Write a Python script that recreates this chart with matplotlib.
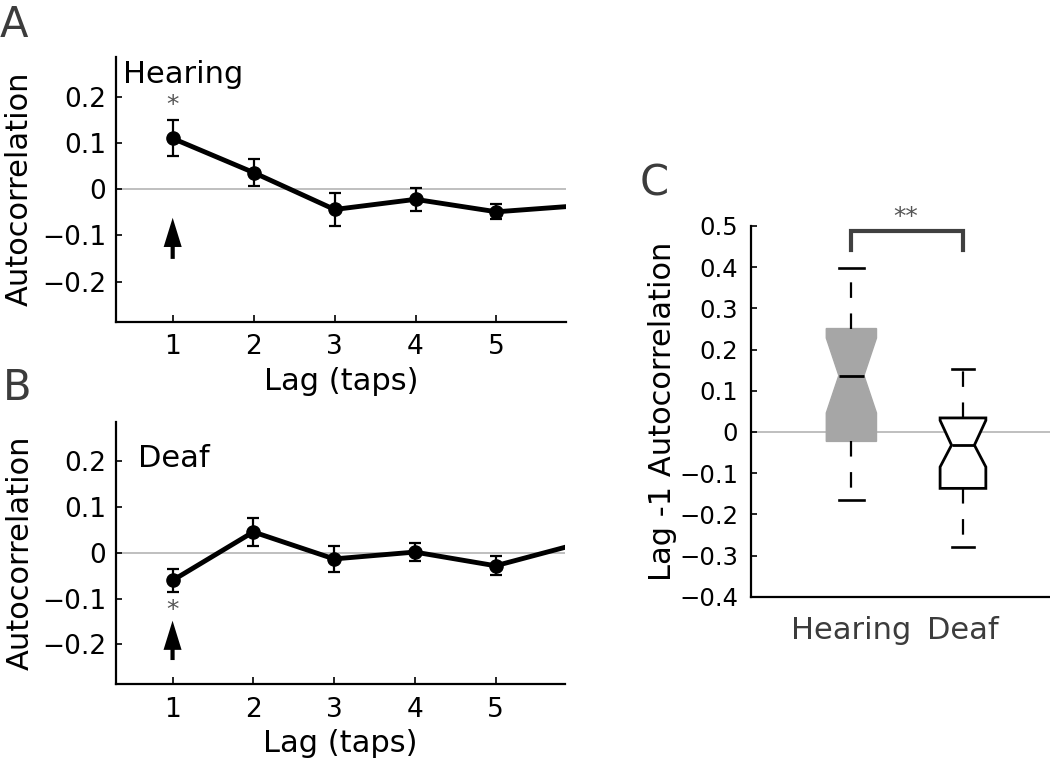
import matplotlib.pyplot as plt
import numpy as np

# ---- data ----
lags = [1, 2, 3, 4, 5, 6]
hearing_acf = [0.110, 0.036, -0.044, -0.022, -0.049, -0.036]
hearing_err = [0.039, 0.029, 0.035, 0.025, 0.016, 0.016]
deaf_acf = [-0.060, 0.046, -0.013, 0.002, -0.028, 0.019]
deaf_err = [0.025, 0.031, 0.028, 0.020, 0.021, 0.021]

groups = ['Hearing', 'Deaf']
q1 = [-0.023, -0.137]
med = [0.137, -0.032]
q3 = [0.251, 0.034]
whislo = [-0.166, -0.279]
whishi = [0.399, 0.152]
cilo = [0.046, -0.085]
cihi = [0.228, 0.028]

ab_yticks = [-0.2, -0.1, 0, 0.1, 0.2]
c_yticks = [-0.4, -0.3, -0.2, -0.1, 0, 0.1, 0.2, 0.3, 0.4, 0.5]
lag_xticks = [1, 2, 3, 4, 5]


def fmt(v):
    return '0' if v == 0 else f'{v:.1f}'.replace('-', '\u2212')


GRAY_TXT = '#3c3c3c'
ZERO = '#b4b4b4'

fig = plt.figure(figsize=(10.5, 7.65), dpi=100)
axA = fig.add_axes([0.1105, 0.5795, 0.4286, 0.3464])
axB = fig.add_axes([0.1105, 0.1055, 0.4276, 0.3433])
axC = fig.add_axes([0.715, 0.22, 0.285, 0.4846])


def style_axes(ax):
    for s in ['top', 'right']:
        ax.spines[s].set_visible(False)
    for s in ['left', 'bottom']:
        ax.spines[s].set_linewidth(1.6)


# ---- A and B: autocorrelation vs lag ----
def lag_panel(ax, vals, errs, name, name_x, name_y, star_y, arrow_y):
    style_axes(ax)
    ax.axhline(0, color=ZERO, lw=1.2, zorder=1)
    ax.errorbar(lags, vals, yerr=errs, color='k', lw=3.5, marker='o', ms=9.5,
                elinewidth=1.6, capsize=4, capthick=1.6, zorder=3)
    ax.set_xlim(0.3, 5.86)
    ax.set_ylim(-0.287, 0.287)
    ax.set_xticks(lag_xticks)
    ax.set_yticks(ab_yticks)
    ax.set_yticklabels([fmt(v) for v in ab_yticks])
    ax.tick_params(axis='x', direction='in', length=5, width=1.2, labelsize=19, pad=9)
    ax.tick_params(axis='y', direction='in', length=4, width=1.2, labelsize=19, pad=7)
    ax.set_ylabel('Autocorrelation', fontsize=22)
    ax.yaxis.set_label_coords(-0.182, 0.5)
    ax.set_xlabel('Lag (taps)', fontsize=22)
    ax.xaxis.set_label_coords(0.5, -0.172)
    ax.text(name_x, name_y, name, fontsize=22, va='baseline', ha='left')
    ax.text(1, star_y, '*', fontsize=18, color='#555555', ha='center', va='center')
    ax.annotate('', xy=(1, arrow_y[1]), xytext=(1, arrow_y[0]),
                arrowprops=dict(width=3, headwidth=13, headlength=21,
                                facecolor='k', edgecolor='k', lw=0,
                                shrink=0))


lag_panel(axA, hearing_acf, hearing_err, 'Hearing', 0.386, 0.229, 0.182, (-0.151, -0.062))
lag_panel(axB, deaf_acf, deaf_err, 'Deaf', 0.57, 0.188, -0.125, (-0.234, -0.148))

# ---- C: lag-1 boxplots ----
style_axes(axC)
axC.axhline(0, color=ZERO, lw=1.2, zorder=0)
stats = []
for i in range(len(groups)):
    stats.append(dict(med=med[i], q1=q1[i], q3=q3[i], whislo=whislo[i],
                      whishi=whishi[i], cilo=cilo[i], cihi=cihi[i], label=groups[i]))
bp = axC.bxp(stats, positions=[1, 2], widths=[0.45, 0.41], shownotches=True,
             patch_artist=True, showfliers=False,
             whiskerprops=dict(color='k', lw=1.6, linestyle=(0, (7, 7))),
             capprops=dict(color='k', lw=1.9),
             medianprops=dict(color='k', lw=2))
bp['boxes'][0].set_facecolor('#a6a6a6')
bp['boxes'][0].set_edgecolor('#a6a6a6')
bp['boxes'][1].set_facecolor('white')
bp['boxes'][1].set_edgecolor('k')
bp['boxes'][1].set_linewidth(2)
for b in bp['boxes']:
    b.set_zorder(2)

axC.set_xlim(0.098, 2.78)
axC.set_ylim(-0.4, 0.5)
axC.set_yticks(c_yticks)
axC.set_yticklabels([fmt(v) for v in c_yticks])
axC.set_xticks([1, 2])
axC.set_xticklabels(groups, color=GRAY_TXT)
axC.tick_params(axis='x', length=0, labelsize=22, pad=14)
axC.tick_params(axis='y', direction='in', length=4, width=1.2, labelsize=17.5, pad=9)
axC.set_ylabel('Lag -1 Autocorrelation', fontsize=22)
axC.yaxis.set_label_coords(-0.246, 0.5)

# significance bracket
axC.plot([1, 1, 2, 2], [0.441, 0.487, 0.487, 0.441], color='#404040', lw=3,
         solid_joinstyle='miter', clip_on=False)
axC.text(1.49, 0.522, '**', fontsize=18, color='#555555', ha='center', va='center',
         clip_on=False)

# panel letters
fig.text(0.0, 1 - 36.7 / 765, 'A', fontsize=30, color=GRAY_TXT, va='baseline', ha='left')
fig.text(0.003, 1 - 400 / 765, 'B', fontsize=30, color=GRAY_TXT, va='baseline', ha='left')
fig.text(640 / 1050, 1 - 196 / 765, 'C', fontsize=30, color=GRAY_TXT, va='baseline', ha='left')

fig.savefig('out.png', dpi=100)
